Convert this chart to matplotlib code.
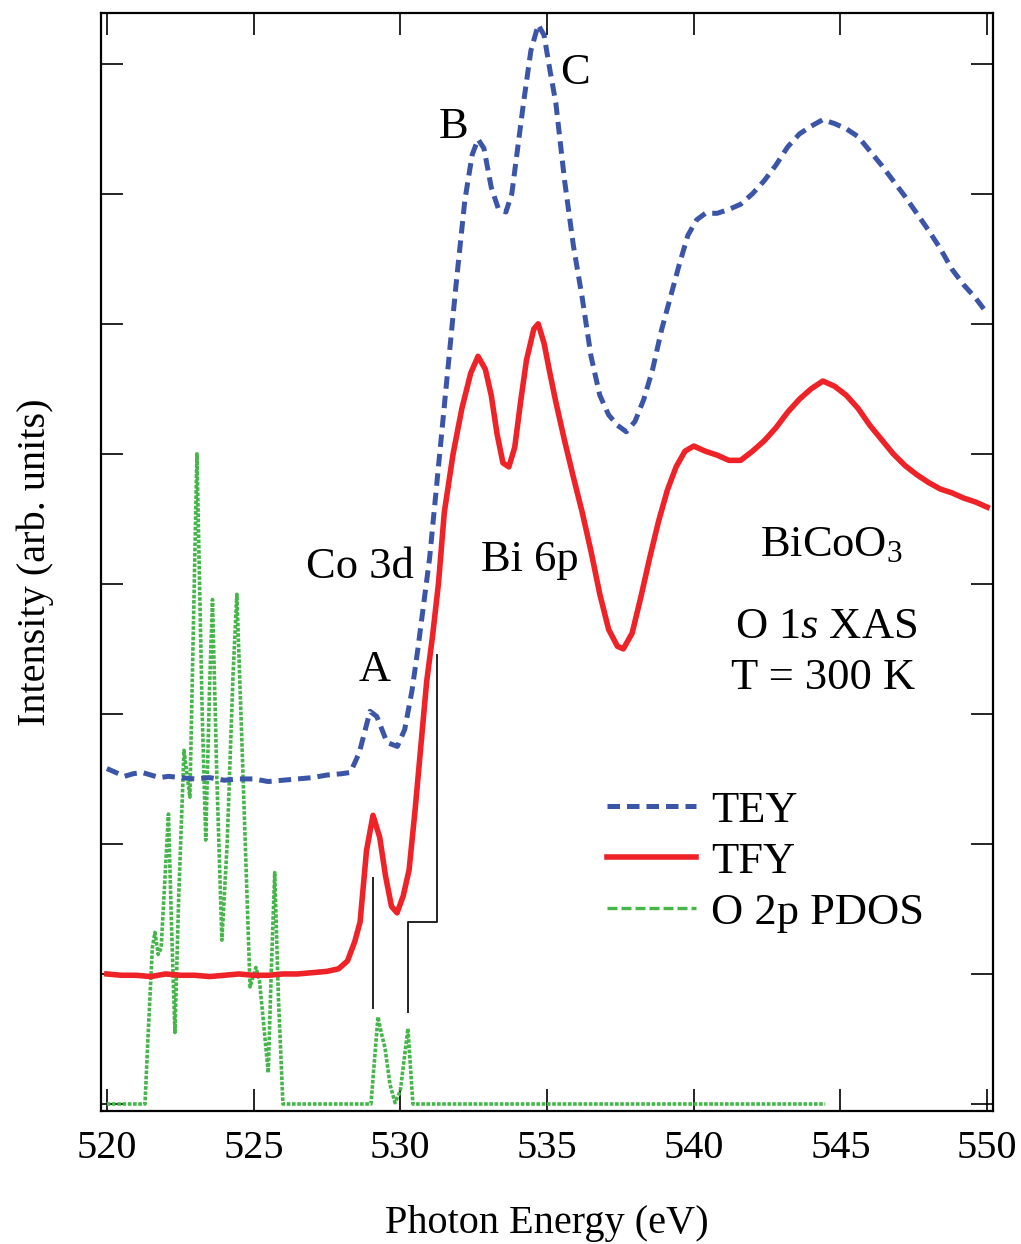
import matplotlib
matplotlib.use("Agg")
import matplotlib.pyplot as plt
from matplotlib.lines import Line2D
import numpy as np

plt.rcParams['font.family'] = ['Liberation Serif', 'DejaVu Serif']
plt.rcParams['mathtext.fontset'] = 'custom'
plt.rcParams['mathtext.rm'] = 'Liberation Serif'
plt.rcParams['mathtext.it'] = 'Liberation Serif:italic'

# TEY (total electron yield)
tey_e = [520.0, 520.3, 520.6, 520.9, 521.2, 521.5, 521.8, 522.1, 522.5, 523.0,
         523.5, 524.0, 524.5, 525.0, 525.5, 526.0, 526.5, 527.0, 527.5, 528.0,
         528.3, 528.6, 528.97, 529.2, 529.55, 529.9, 530.15, 530.4, 530.6, 530.8,
         531.0, 531.3, 531.6, 531.9, 532.2, 532.45, 532.65, 532.85, 533.1, 533.35,
         533.6, 533.8, 534.0, 534.2, 534.45, 534.7, 534.9, 535.1, 535.3, 535.6,
         535.9, 536.2, 536.5, 536.8, 537.1, 537.4, 537.7, 538.0, 538.3, 538.6,
         538.9, 539.2, 539.5, 539.8, 540.1, 540.4, 540.8, 541.2, 541.6, 542.0,
         542.4, 542.8, 543.2, 543.6, 544.0, 544.4, 544.8, 545.2, 545.6, 546.0,
         546.4, 546.8, 547.2, 547.6, 548.0, 548.4, 548.8, 549.2, 549.6, 550.0]
tey_i = [2.58, 2.55, 2.52, 2.54, 2.55, 2.53, 2.51, 2.52, 2.51, 2.50,
         2.51, 2.49, 2.50, 2.50, 2.48, 2.49, 2.50, 2.51, 2.53, 2.54,
         2.55, 2.70, 3.02, 2.98, 2.78, 2.75, 2.88, 3.18, 3.50, 3.85,
         4.20, 4.90, 5.60, 6.30, 6.95, 7.30, 7.42, 7.35, 7.05, 6.88,
         6.86, 7.00, 7.35, 7.70, 8.10, 8.30, 8.22, 7.95, 7.70, 7.10,
         6.60, 6.20, 5.75, 5.45, 5.30, 5.22, 5.17, 5.25, 5.42, 5.65,
         5.95, 6.20, 6.45, 6.68, 6.80, 6.85, 6.85, 6.88, 6.92, 7.00,
         7.10, 7.22, 7.36, 7.46, 7.52, 7.57, 7.54, 7.50, 7.44, 7.33,
         7.22, 7.10, 6.98, 6.85, 6.72, 6.58, 6.42, 6.30, 6.20, 6.08]

# TFY (total fluorescence yield)
tfy_e = [520.0, 520.5, 521.0, 521.5, 522.0, 522.5, 523.0, 523.5, 524.0, 524.5,
         525.0, 525.5, 526.0, 526.5, 527.0, 527.5, 527.9, 528.2, 528.45, 528.63,
         528.85, 529.07, 529.3, 529.5, 529.7, 529.89, 530.1, 530.3, 530.5, 530.7,
         530.9, 531.1, 531.3, 531.5, 531.8, 532.1, 532.4, 532.65, 532.9, 533.1,
         533.3, 533.5, 533.7, 533.9, 534.1, 534.3, 534.55, 534.7, 534.9, 535.1,
         535.3, 535.6, 535.9, 536.2, 536.5, 536.8, 537.1, 537.4, 537.6, 537.9,
         538.2, 538.5, 538.8, 539.1, 539.4, 539.7, 540.0, 540.4, 540.8, 541.2,
         541.6, 542.0, 542.4, 542.8, 543.2, 543.6, 544.0, 544.4, 544.8, 545.2,
         545.6, 546.0, 546.4, 546.8, 547.2, 547.6, 548.0, 548.4, 548.8, 549.2,
         549.6, 550.0]
tfy_i = [1.00, 0.99, 0.99, 0.98, 1.00, 0.99, 0.99, 0.98, 0.99, 1.00,
         0.99, 0.99, 1.00, 1.00, 1.01, 1.02, 1.04, 1.10, 1.25, 1.40,
         1.95, 2.22, 2.05, 1.75, 1.52, 1.47, 1.60, 1.80, 2.25, 2.75,
         3.25, 3.60, 4.00, 4.55, 5.00, 5.35, 5.62, 5.75, 5.65, 5.45,
         5.15, 4.93, 4.90, 5.05, 5.40, 5.72, 5.96, 6.00, 5.85, 5.62,
         5.40, 5.10, 4.82, 4.55, 4.25, 3.92, 3.65, 3.52, 3.50, 3.62,
         3.90, 4.20, 4.48, 4.72, 4.90, 5.02, 5.06, 5.02, 4.99, 4.95,
         4.95, 5.02, 5.10, 5.20, 5.32, 5.42, 5.50, 5.56, 5.52, 5.45,
         5.35, 5.22, 5.11, 5.00, 4.91, 4.84, 4.78, 4.73, 4.70, 4.66,
         4.63, 4.59]

# O 2p partial density of states
pdos_e = [520.0, 521.3, 521.4, 521.55, 521.64, 521.75, 521.85, 522.1, 522.2, 522.32,
          522.45, 522.63, 522.75, 522.83, 523.07, 523.25, 523.37, 523.5, 523.6, 523.75,
          523.92, 524.1, 524.3, 524.43, 524.6, 524.88, 525.08, 525.2, 525.35, 525.5,
          525.6, 525.72, 525.85, 526.0, 529.0, 529.24, 529.35, 529.48, 529.65, 529.82,
          530.0, 530.26, 530.43, 544.48]
pdos_i = [0.0, 0.0, 0.5, 1.2, 1.32, 1.15, 1.2, 2.23, 1.4, 0.55,
          1.6, 2.72, 2.5, 2.36, 5.0, 3.0, 2.03, 3.2, 3.88, 2.5,
          1.26, 2.0, 3.3, 3.92, 2.8, 0.9, 1.05, 0.95, 0.6, 0.24,
          1.0, 1.78, 0.8, 0.0, 0.0, 0.67, 0.55, 0.43, 0.15, 0.01,
          0.1, 0.58, 0.0, 0.0]

# bracket lines linking PDOS peaks to spectra
mark1_x = [529.07, 529.07]
mark1_y = [0.74, 1.74]
mark2_x = [530.26, 530.26, 531.25, 531.25]
mark2_y = [0.71, 1.40, 1.40, 3.45]

c_tey = '#3b55a8'
c_tfy = '#ee2227'
c_pdos = '#45b649'

fig = plt.figure(figsize=(10.21, 12.44), dpi=100)
ax = fig.add_axes([0.0989, 0.1069, 0.8737, 0.8826])

ax.plot(mark1_x, mark1_y, color='#222222', lw=1.4)
ax.plot(mark2_x, mark2_y, color='#222222', lw=1.4)
ax.plot(pdos_e, pdos_i, color=c_pdos, lw=2.6, linestyle=(0, (1, 0.45)))
ax.plot(tfy_e, tfy_i, color=c_tfy, lw=4)
ax.plot(tey_e, tey_i, color=c_tey, lw=3.6, linestyle=(0, (2.5, 1.4)))

ax.set_xlim(519.8, 550.2)
ax.set_ylim(-0.054, 8.39)
ax.set_xticks(np.arange(520, 551, 5))
ax.set_yticks(np.arange(0, 9, 1))
ax.set_yticklabels([])
ax.tick_params(direction='in', length=16, width=1.2, top=True, right=True,
               labelsize=29, pad=14)
for s in ax.spines.values():
    s.set_linewidth(1.6)

ax.set_xlabel('Photon Energy (eV)', fontsize=29, labelpad=27)
ax.set_ylabel('Intensity (arb. units)', fontsize=29, labelpad=20)

fs = 32
ax.text(528.63, 4.13, 'Co 3d', fontsize=fs, ha='center', va='center')
ax.text(529.14, 3.34, 'A', fontsize=fs, ha='center', va='center')
ax.text(531.8, 7.51, 'B', fontsize=fs, ha='center', va='center')
ax.text(535.96, 7.93, 'C', fontsize=fs, ha='center', va='center')
ax.text(534.42, 4.18, 'Bi 6p', fontsize=fs, ha='center', va='center')
ax.text(544.7, 4.30, r'BiCoO$_3$', fontsize=fs, ha='center', va='center')
ax.text(544.5, 3.67, r'O 1$s$ XAS', fontsize=fs, ha='center', va='center')
ax.text(544.4, 3.28, 'T = 300 K', fontsize=fs, ha='center', va='center')

handles = [Line2D([], [], color=c_tey, lw=3.6, linestyle=(0, (2.5, 1.4))),
           Line2D([], [], color=c_tfy, lw=4),
           Line2D([], [], color=c_pdos, lw=2.4, linestyle=(0, (3, 1.2)))]
ax.legend(handles, ['TEY', 'TFY', 'O 2p PDOS'], loc='upper left',
          bbox_to_anchor=(0.567, 0.292), frameon=False, fontsize=fs,
          handlelength=2.0, handletextpad=0.35, labelspacing=0.25, borderpad=0,
          borderaxespad=0)

fig.savefig('out.png', dpi=100)
